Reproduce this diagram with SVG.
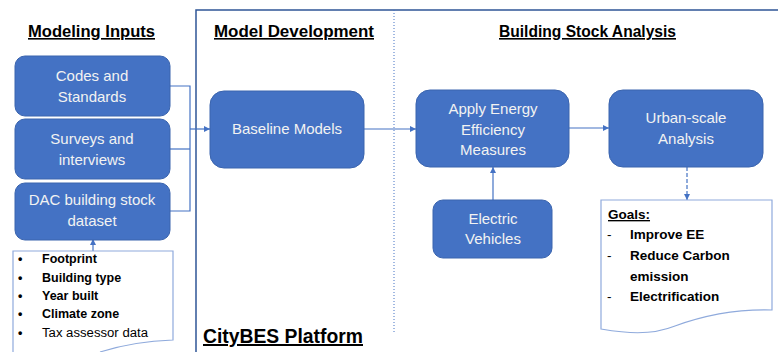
<svg xmlns="http://www.w3.org/2000/svg" width="778" height="352" viewBox="0 0 778 352">
<defs>
<marker id="arr" viewBox="0 0 6 6" refX="6" refY="3" markerWidth="6" markerHeight="6" orient="auto" markerUnits="userSpaceOnUse">
<path d="M0,0 L6,3 L0,6 Z" fill="#4472C4"/>
</marker>
</defs>
<style>
.box{fill:#4472C4;stroke:#3A64AE;stroke-width:1}
.bt{font-family:"Liberation Sans",Arial,sans-serif;font-size:15px;fill:#F2F2F2;text-anchor:middle}
.hd{font-family:"Liberation Sans",Arial,sans-serif;font-size:16px;font-weight:bold;fill:#000;text-decoration:underline}
.ln{stroke:#4472C4;stroke-width:1.2;fill:none}
.doc{fill:#fff;stroke:#8FAADC;stroke-width:1.2}
.lt{font-family:"Liberation Sans",Arial,sans-serif;font-size:12.5px;font-weight:bold;fill:#000}
.gt{font-family:"Liberation Sans",Arial,sans-serif;font-size:13.5px;font-weight:bold;fill:#000}
</style>
<rect width="778" height="352" fill="#fff"/>
<g id="frame">
<path d="M196,352 V10 H778" fill="none" stroke="#2F5597" stroke-width="1.5"/>
<line x1="394" y1="10" x2="394" y2="334" stroke="#4472C4" stroke-width="1" stroke-dasharray="1,2"/>
</g>
<g id="headers">
<text class="hd" x="28" y="37" textLength="127" lengthAdjust="spacingAndGlyphs">Modeling Inputs</text>
<text class="hd" x="214" y="37" textLength="160" lengthAdjust="spacingAndGlyphs">Model Development</text>
<text class="hd" x="499" y="37" textLength="177" lengthAdjust="spacingAndGlyphs">Building Stock Analysis</text>
<text x="203" y="343" font-family="Liberation Sans,Arial,sans-serif" font-size="20" font-weight="bold" text-decoration="underline" textLength="160" lengthAdjust="spacingAndGlyphs">CityBES Platform</text>
</g>
<g id="connectors">
<polyline class="ln" points="170,86 190,86 190,211 170,211"/>
<line class="ln" x1="170" y1="149" x2="190" y2="149"/>
<line class="ln" x1="190" y1="129" x2="210" y2="129" marker-end="url(#arr)"/>
<line class="ln" x1="364" y1="129" x2="416" y2="129" marker-end="url(#arr)"/>
<line class="ln" x1="569" y1="128" x2="609" y2="128" marker-end="url(#arr)"/>
<line class="ln" x1="493" y1="200" x2="493" y2="167" marker-end="url(#arr)"/>
<line class="ln" x1="687" y1="167" x2="687" y2="200" stroke-dasharray="4,2" marker-end="url(#arr)"/>
<line class="ln" x1="93" y1="251" x2="93" y2="239" marker-end="url(#arr)"/>
</g>
<g id="codes">
<rect class="box" x="15" y="56" width="155" height="60" rx="10"/>
<text class="bt" x="92" y="81">Codes and</text>
<text class="bt" x="92" y="102">Standards</text>
</g>
<g id="surveys">
<rect class="box" x="15" y="119" width="155" height="60" rx="10"/>
<text class="bt" x="92" y="144">Surveys and</text>
<text class="bt" x="92" y="165">interviews</text>
</g>
<g id="dac">
<rect class="box" x="15" y="183" width="155" height="57" rx="10"/>
<text class="bt" x="92" y="205">DAC building stock</text>
<text class="bt" x="92" y="226">dataset</text>
</g>
<g id="attributes">
<path class="doc" d="M13,352 V251 H173 V340 C145,341 122,345 100,352"/>
<g class="lt">
<text x="18" y="263">•</text><text x="42" y="263">Footprint</text>
<text x="18" y="282">•</text><text x="42" y="282">Building type</text>
<text x="18" y="300">•</text><text x="42" y="300">Year built</text>
<text x="18" y="318">•</text><text x="42" y="318">Climate zone</text>
<text x="18" y="337">•</text><text x="42" y="337" font-weight="normal" textLength="106" lengthAdjust="spacingAndGlyphs">Tax assessor data</text>
</g>
</g>
<g id="baseline">
<rect class="box" x="210" y="91" width="154" height="77" rx="14"/>
<text class="bt" x="287" y="134">Baseline Models</text>
</g>
<g id="apply">
<rect class="box" x="416" y="90" width="153" height="77" rx="14"/>
<text class="bt" x="493" y="114">Apply Energy</text>
<text class="bt" x="493" y="135">Efficiency</text>
<text class="bt" x="493" y="155">Measures</text>
</g>
<g id="urban">
<rect class="box" x="609" y="90" width="154" height="77" rx="14"/>
<text class="bt" x="686" y="123">Urban-scale</text>
<text class="bt" x="686" y="144">Analysis</text>
</g>
<g id="ev">
<rect class="box" x="433" y="200" width="119" height="58" rx="10"/>
<text class="bt" x="493" y="224">Electric</text>
<text class="bt" x="493" y="244">Vehicles</text>
</g>
<g id="goals">
<path class="doc" d="M601,200 H772 V310 C735,309 705,315 675,326 C650,336 625,333 601,329 Z"/>
<g class="gt">
<text x="608" y="219" text-decoration="underline">Goals:</text>
<text x="607" y="239" font-weight="normal">-</text><text x="630" y="239">Improve EE</text>
<text x="607" y="260" font-weight="normal">-</text><text x="630" y="260">Reduce Carbon</text>
<text x="630" y="281">emission</text>
<text x="607" y="301" font-weight="normal">-</text><text x="630" y="301">Electrification</text>
</g>
</g>
</svg>
